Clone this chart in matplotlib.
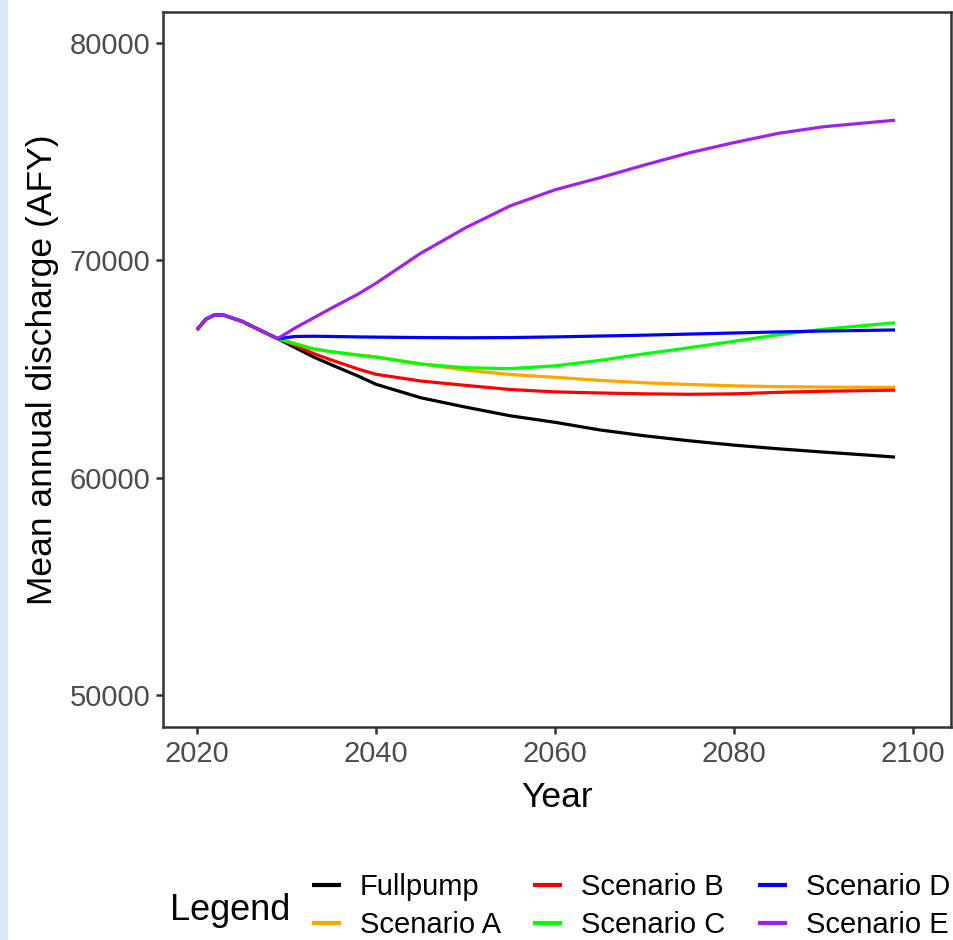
import matplotlib
matplotlib.use('Agg')
import matplotlib.pyplot as plt
from matplotlib.patches import Rectangle

plt.rcParams['font.family'] = ['Liberation Sans', 'DejaVu Sans']

# shared start of all runs (up to 2029)
years_base = [2020, 2021, 2022, 2023, 2025, 2027, 2029]
base = [66810, 67300, 67500, 67480, 67200, 66800, 66400]

# after 2029 the scenarios split
years = [2031, 2033, 2035, 2038, 2040, 2045, 2050, 2055, 2060, 2065, 2070,
         2075, 2080, 2085, 2090, 2095, 2098]
fullpump = [65980, 65560, 65200, 64680, 64300, 63680, 63250, 62850, 62550,
            62200, 61930, 61700, 61500, 61330, 61180, 61040, 60950]
scen_a = [66170, 65940, 65800, 65650, 65560, 65240, 64950, 64750, 64620,
          64480, 64370, 64290, 64230, 64190, 64170, 64160, 64160]
scen_b = [66080, 65720, 65420, 65000, 64760, 64450, 64250, 64060, 63950,
          63900, 63860, 63840, 63860, 63930, 63980, 64010, 64030]
scen_c = [66150, 65920, 65800, 65640, 65550, 65230, 65060, 65020, 65150,
          65400, 65700, 65980, 66280, 66580, 66830, 67020, 67130]
scen_d = [66500, 66510, 66500, 66480, 66470, 66450, 66440, 66450, 66480,
          66520, 66560, 66610, 66660, 66710, 66750, 66780, 66800]
scen_e = [66900, 67350, 67800, 68450, 68950, 70330, 71500, 72510, 73250,
          73800, 74390, 74950, 75420, 75850, 76150, 76340, 76450]

names = ['Fullpump', 'Scenario A', 'Scenario B', 'Scenario C', 'Scenario D', 'Scenario E']
series = [fullpump, scen_a, scen_b, scen_c, scen_d, scen_e]
colors = ['black', '#FFA500', '#FF0000', '#00FF00', '#0000FF', '#A020F0']

x_ticks = [2020, 2040, 2060, 2080, 2100]
y_ticks = [50000, 60000, 70000, 80000]

fig = plt.figure(figsize=(9.54, 9.4), dpi=100)
fig.patch.set_facecolor('white')
# light blue strip on the left edge of the screenshot
fig.patches.append(Rectangle((0, 0), 0.008, 1, transform=fig.transFigure,
                             facecolor='#DCE8F6', edgecolor='none'))

ax = fig.add_axes([163 / 954, 1 - 727 / 940, 788 / 954, 715 / 940])

handles = []
for name, vals, col in zip(names, series, colors):
    xs = years_base + years
    ys = base + vals
    ln, = ax.plot(xs, ys, color=col, lw=2.3, label=name,
                  solid_joinstyle='round', solid_capstyle='butt')
    handles.append(ln)

ax.set_xlim(2016.2, 2104.25)
ax.set_ylim(48530, 81430)
ax.set_xticks(x_ticks)
ax.set_yticks(y_ticks)

for s in ax.spines.values():
    s.set_linewidth(1.8)
    s.set_color('#333333')
ax.tick_params(axis='both', length=5, width=1.8, color='#333333',
               labelsize=21, labelcolor='#4D4D4D', pad=4)

ax.set_xlabel('Year', fontsize=25.5, color='black', labelpad=10)
ax.set_ylabel('Mean annual discharge (AFY)', fontsize=25.5, color='black', labelpad=8)

# legend at the bottom, title on the left
fig.text(170 / 954, 1 - 910 / 940, 'Legend', fontsize=26, ha='left', va='center')
leg = fig.legend(handles=handles, ncol=3, loc='center left',
                 bbox_to_anchor=(312 / 954, 1 - 906 / 940),
                 frameon=False, fontsize=21, handlelength=1.0,
                 handletextpad=0.65, columnspacing=1.1, labelspacing=0.35,
                 borderaxespad=0, borderpad=0)
for ln in leg.get_lines():
    ln.set_linewidth(3)

fig.savefig('out.png', dpi=100, facecolor='white')
